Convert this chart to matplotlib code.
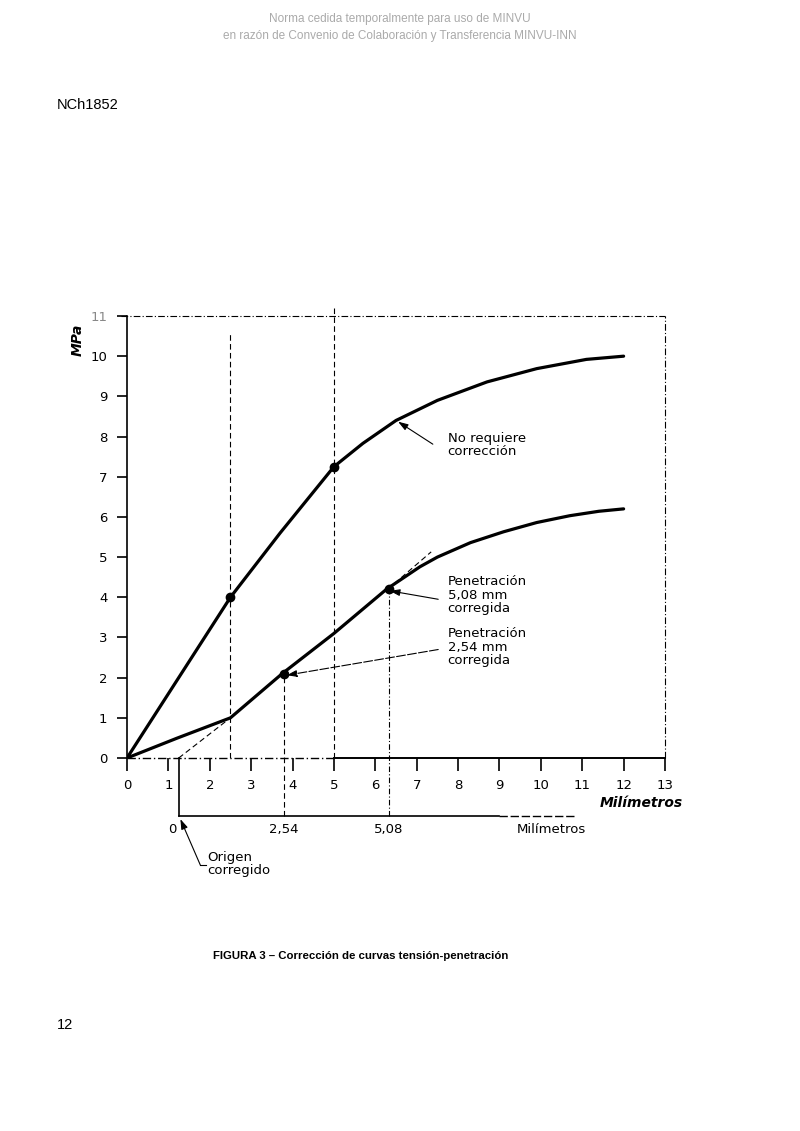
import numpy as np
import matplotlib
matplotlib.use('Agg')
import matplotlib.pyplot as plt

# curves (mm, MPa)
upper_x = [0, 1.25, 2.5, 3.7, 5.0, 5.7, 6.5, 7.5, 8.7, 9.9, 11.1, 12.0]
upper_y = [0, 2.0, 4.0, 5.6, 7.25, 7.83, 8.4, 8.9, 9.36, 9.69, 9.92, 10.0]
lower_x = [0, 1.2, 2.5, 3.75, 5.0, 6.27, 7.08, 7.5, 8.3, 9.1, 9.9, 10.7, 11.4, 12.0]
lower_y = [0, 0.49, 1.0, 2.1, 3.1, 4.2, 4.76, 5.0, 5.36, 5.63, 5.86, 6.03, 6.14, 6.2]

marked_x = [2.5, 5.0, 3.79, 6.33]
marked_y = [4.0, 7.25, 2.1, 4.2]

origin_corr = 1.25
corr_ticks = [0, 2.54, 5.08]
corr_labels = ['0', '2,54', '5,08']
xticks = list(range(0, 14))
yticks = list(range(0, 12))

DPI = 100
fig = plt.figure(figsize=(8.0, 11.31), dpi=DPI)
ax = fig.add_axes([127/800, 1-758/1131, (665-127)/800, (758-316)/1131])
ax.set_xlim(0, 13)
ax.set_ylim(0, 11)

font = 'DejaVu Sans'
ax.plot(upper_x, upper_y, color='black', lw=2.3, solid_joinstyle='round',
        solid_capstyle='round', zorder=4)
ax.plot(lower_x, lower_y, color='black', lw=2.3, solid_joinstyle='round',
        solid_capstyle='round', zorder=4)
ax.plot(marked_x, marked_y, 'o', color='black', ms=6, zorder=5)

# tangent construction lines
ax.plot([origin_corr, 2.5], [0, 1.0], color='black', lw=0.8, ls=(0, (5, 3)))
ax.plot([6.3, 7.35], [4.2, 5.13], color='black', lw=0.8, ls=(0, (5, 3)))

# vertical reference lines
y2 = -1.44
ax.plot([2.5, 2.5], [0, 10.6], color='black', lw=0.8, ls=(0, (5, 3)))
ax.plot([5.0, 5.0], [0, 11.27], color='black', lw=0.8, ls=(0, (5, 3)), clip_on=False)
ax.plot([3.79, 3.79], [y2, 2.1], color='black', lw=0.8, ls=(0, (5, 3)), clip_on=False)
ax.plot([6.33, 6.33], [y2, 4.2], color='black', lw=0.8, ls=(0, (5, 2, 1, 2)), clip_on=False)

# frame
for s in ['top', 'right', 'bottom']:
    ax.spines[s].set_visible(False)
ax.spines['left'].set_linewidth(1.2)
ax.plot([-0.15, 13], [11, 11], color='black', lw=0.8, ls=(0, (6, 2, 1, 2)), clip_on=False)
ax.plot([13, 13], [0, 11], color='black', lw=0.8, ls=(0, (6, 2, 1, 2)), clip_on=False)
ax.plot([0, 5], [0, 0], color='black', lw=1.0, ls=(0, (6, 2, 1, 2)), clip_on=False)
ax.plot([5, 13], [0, 0], color='black', lw=1.4, clip_on=False)

ax.set_xticks(xticks)
ax.set_yticks(yticks)
ax.set_xticklabels([str(t) for t in xticks], fontsize=9.5, family=font)
ax.set_yticklabels([str(t) for t in yticks], fontsize=9.5, family=font)
ax.tick_params(axis='x', direction='out', length=9, width=1.2, pad=6)
ax.tick_params(axis='y', direction='out', length=7, width=1.2, pad=7)
ax.get_yticklabels()[-1].set_color('#888888')

ax.text(-1.18, 10.4, 'MPa', rotation=90, fontsize=10, fontweight='bold',
        fontstyle='italic', ha='center', va='center', family=font)
ax.text(12.42, -1.12, 'Milímetros', fontsize=10, fontweight='bold',
        fontstyle='italic', ha='center', va='center', family=font)

# corrected penetration scale
ax.plot([origin_corr, origin_corr], [0, y2], color='black', lw=1.2, clip_on=False)
ax.plot([origin_corr, 9.0], [y2, y2], color='black', lw=1.2, clip_on=False)
ax.plot([9.0, 10.8], [y2, y2], color='black', lw=1.0, ls=(0, (6, 2)), clip_on=False)
for t, lab in zip(corr_ticks, corr_labels):
    xx = origin_corr + t
    if t == 0:
        xx = xx - 0.16
    ax.text(xx, -1.79, lab, fontsize=9.5, ha='center', va='center', family=font)
ax.text(10.25, -1.79, 'Milímetros', fontsize=9.5, ha='center', va='center', family=font)

# annotations
arrow = dict(arrowstyle='-|>,head_length=0.6,head_width=0.2', color='black', lw=0.8,
             shrinkA=0, shrinkB=0)
ax.annotate('', xy=(6.55, 8.37), xytext=(7.39, 7.81), arrowprops=arrow)
ax.text(7.75, 7.79, 'No requiere\ncorrección', fontsize=9.5, ha='left', va='center',
        linespacing=1.05, family=font)
ax.annotate('', xy=(6.35, 4.16), xytext=(7.52, 3.95), arrowprops=arrow)
ax.text(7.75, 4.05, 'Penetración\n5,08 mm\ncorregida', fontsize=9.5, ha='left',
        va='center', linespacing=1.05, family=font)
arrow_d = dict(arrow, ls=(0, (8, 2)))
ax.annotate('', xy=(3.86, 2.06), xytext=(7.52, 2.70), arrowprops=arrow_d)
ax.text(7.75, 2.76, 'Penetración\n2,54 mm\ncorregida', fontsize=9.5, ha='left',
        va='center', linespacing=1.05, family=font)

ax.plot([1.91, 1.77], [-2.66, -2.66], color='black', lw=0.8, clip_on=False)
ax.annotate('', xy=(1.29, -1.52), xytext=(1.77, -2.66), arrowprops=arrow,
            annotation_clip=False)
ax.text(1.95, -2.64, 'Origen\ncorregido', fontsize=9.5, ha='left', va='center',
        linespacing=1.05, family=font)

# page texts
fig.text(400/800, 1-19/1131, 'Norma cedida temporalmente para uso de MINVU',
         ha='center', va='center', fontsize=8.5, color='#aaaaaa', family='Liberation Sans')
fig.text(400/800, 1-36/1131, 'en razón de Convenio de Colaboración y Transferencia MINVU-INN',
         ha='center', va='center', fontsize=8.5, color='#aaaaaa', family='Liberation Sans')
fig.text(57/800, 1-105/1131, 'NCh1852', ha='left', va='center', fontsize=10.5,
         family='Liberation Sans')
fig.text(57/800, 1-1025/1131, '12', ha='left', va='center', fontsize=10.5,
         family='Liberation Sans')
fig.text(361/800, 1-956/1131, 'FIGURA 3 – Corrección de curvas tensión-penetración',
         ha='center', va='center', fontsize=8.2, fontweight='bold', family='Liberation Sans')

fig.savefig('out.png', dpi=DPI)
